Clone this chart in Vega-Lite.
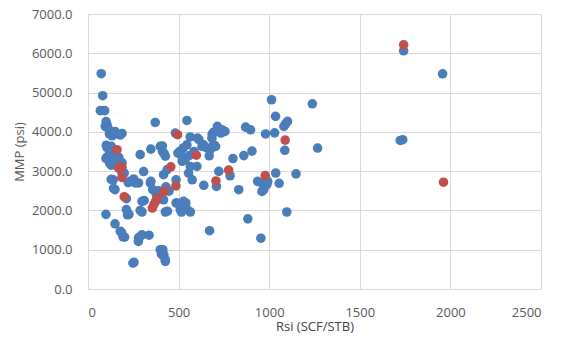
{
  "$schema": "https://vega.github.io/schema/vega-lite/v6.json",
  "autosize": "none",
  "width": 453,
  "height": 275,
  "padding": {"left": 88, "top": 14, "right": 21, "bottom": 50},
  "background": "white",
  "config": {"view": {"stroke": null}, "font": "Open Sans"},
  "datasets": {
    "pts": [
      {"rsi": 73, "mmp": 5480, "s": "A"}, {"rsi": 81, "mmp": 4920, "s": "A"}, {"rsi": 68, "mmp": 4540, "s": "A"}, {"rsi": 92, "mmp": 4540, "s": "A"},
      {"rsi": 100, "mmp": 4260, "s": "A"}, {"rsi": 105, "mmp": 4180, "s": "A"}, {"rsi": 95, "mmp": 4140, "s": "A"}, {"rsi": 110, "mmp": 4100, "s": "A"},
      {"rsi": 125, "mmp": 4000, "s": "A"}, {"rsi": 133, "mmp": 3900, "s": "A"}, {"rsi": 141, "mmp": 3930, "s": "A"}, {"rsi": 149, "mmp": 4010, "s": "A"},
      {"rsi": 118, "mmp": 3950, "s": "A"}, {"rsi": 188, "mmp": 3960, "s": "A"}, {"rsi": 178, "mmp": 3920, "s": "A"},
      {"rsi": 101, "mmp": 3660, "s": "A"}, {"rsi": 129, "mmp": 3630, "s": "A"}, {"rsi": 105, "mmp": 3600, "s": "A"}, {"rsi": 119, "mmp": 3440, "s": "A"},
      {"rsi": 140, "mmp": 3500, "s": "A"}, {"rsi": 150, "mmp": 3420, "s": "A"}, {"rsi": 99, "mmp": 3320, "s": "A"}, {"rsi": 103, "mmp": 3350, "s": "A"},
      {"rsi": 115, "mmp": 3310, "s": "A"}, {"rsi": 129, "mmp": 3150, "s": "A"}, {"rsi": 120, "mmp": 3200, "s": "A"}, {"rsi": 140, "mmp": 3250, "s": "A"},
      {"rsi": 155, "mmp": 3300, "s": "A"}, {"rsi": 165, "mmp": 3200, "s": "A"}, {"rsi": 170, "mmp": 3350, "s": "A"},
      {"rsi": 139, "mmp": 2780, "s": "A"}, {"rsi": 128, "mmp": 2790, "s": "A"}, {"rsi": 149, "mmp": 2530, "s": "A"}, {"rsi": 141, "mmp": 2560, "s": "A"},
      {"rsi": 99, "mmp": 1900, "s": "A"}, {"rsi": 149, "mmp": 1660, "s": "A"}, {"rsi": 178, "mmp": 1470, "s": "A"}, {"rsi": 185, "mmp": 1440, "s": "A"},
      {"rsi": 193, "mmp": 1330, "s": "A"}, {"rsi": 202, "mmp": 1320, "s": "A"},
      {"rsi": 188, "mmp": 2950, "s": "A"}, {"rsi": 188, "mmp": 3210, "s": "A"}, {"rsi": 175, "mmp": 3100, "s": "A"}, {"rsi": 200, "mmp": 2950, "s": "A"},
      {"rsi": 212, "mmp": 2300, "s": "A"}, {"rsi": 212, "mmp": 2020, "s": "A"}, {"rsi": 218, "mmp": 1890, "s": "A"}, {"rsi": 226, "mmp": 1900, "s": "A"},
      {"rsi": 233, "mmp": 2740, "s": "A"}, {"rsi": 252, "mmp": 2800, "s": "A"}, {"rsi": 262, "mmp": 2700, "s": "A"}, {"rsi": 279, "mmp": 2700, "s": "A"},
      {"rsi": 222, "mmp": 2710, "s": "A"}, {"rsi": 288, "mmp": 3420, "s": "A"}, {"rsi": 307, "mmp": 2990, "s": "A"}, {"rsi": 298, "mmp": 2230, "s": "A"},
      {"rsi": 310, "mmp": 2250, "s": "A"}, {"rsi": 298, "mmp": 1960, "s": "A"}, {"rsi": 288, "mmp": 2000, "s": "A"},
      {"rsi": 284, "mmp": 1320, "s": "A"}, {"rsi": 278, "mmp": 1210, "s": "A"}, {"rsi": 279, "mmp": 1300, "s": "A"}, {"rsi": 298, "mmp": 1380, "s": "A"},
      {"rsi": 337, "mmp": 1370, "s": "A"}, {"rsi": 248, "mmp": 660, "s": "A"}, {"rsi": 254, "mmp": 680, "s": "A"},
      {"rsi": 371, "mmp": 4240, "s": "A"}, {"rsi": 347, "mmp": 2740, "s": "A"}, {"rsi": 357, "mmp": 2530, "s": "A"}, {"rsi": 344, "mmp": 2700, "s": "A"},
      {"rsi": 347, "mmp": 3560, "s": "A"}, {"rsi": 399, "mmp": 3630, "s": "A"}, {"rsi": 410, "mmp": 3640, "s": "A"}, {"rsi": 411, "mmp": 3500, "s": "A"},
      {"rsi": 427, "mmp": 3380, "s": "A"}, {"rsi": 420, "mmp": 3450, "s": "A"}, {"rsi": 377, "mmp": 2400, "s": "A"}, {"rsi": 390, "mmp": 2500, "s": "A"},
      {"rsi": 427, "mmp": 1960, "s": "A"}, {"rsi": 438, "mmp": 1980, "s": "A"}, {"rsi": 417, "mmp": 2270, "s": "A"}, {"rsi": 400, "mmp": 2330, "s": "A"},
      {"rsi": 417, "mmp": 2910, "s": "A"}, {"rsi": 437, "mmp": 3040, "s": "A"}, {"rsi": 399, "mmp": 1000, "s": "A"}, {"rsi": 408, "mmp": 873, "s": "A"},
      {"rsi": 413, "mmp": 1000, "s": "A"}, {"rsi": 419, "mmp": 870, "s": "A"}, {"rsi": 405, "mmp": 900, "s": "A"}, {"rsi": 426, "mmp": 746, "s": "A"},
      {"rsi": 427, "mmp": 704, "s": "A"}, {"rsi": 447, "mmp": 2490, "s": "A"}, {"rsi": 430, "mmp": 2600, "s": "A"},
      {"rsi": 482, "mmp": 3970, "s": "A"}, {"rsi": 486, "mmp": 2780, "s": "A"}, {"rsi": 496, "mmp": 3460, "s": "A"}, {"rsi": 506, "mmp": 3500, "s": "A"},
      {"rsi": 546, "mmp": 4290, "s": "A"}, {"rsi": 526, "mmp": 3590, "s": "A"}, {"rsi": 546, "mmp": 3670, "s": "A"}, {"rsi": 536, "mmp": 3290, "s": "A"},
      {"rsi": 516, "mmp": 3400, "s": "A"}, {"rsi": 520, "mmp": 3250, "s": "A"}, {"rsi": 486, "mmp": 2190, "s": "A"}, {"rsi": 527, "mmp": 2230, "s": "A"},
      {"rsi": 537, "mmp": 2100, "s": "A"}, {"rsi": 516, "mmp": 1960, "s": "A"}, {"rsi": 565, "mmp": 1960, "s": "A"}, {"rsi": 509, "mmp": 2018, "s": "A"},
      {"rsi": 546, "mmp": 2018, "s": "A"}, {"rsi": 491, "mmp": 2188, "s": "A"}, {"rsi": 540, "mmp": 2190, "s": "A"},
      {"rsi": 564, "mmp": 3870, "s": "A"}, {"rsi": 605, "mmp": 3840, "s": "A"}, {"rsi": 612, "mmp": 3800, "s": "A"}, {"rsi": 585, "mmp": 3500, "s": "A"},
      {"rsi": 560, "mmp": 3400, "s": "A"}, {"rsi": 565, "mmp": 3120, "s": "A"}, {"rsi": 601, "mmp": 3120, "s": "A"}, {"rsi": 575, "mmp": 2780, "s": "A"},
      {"rsi": 555, "mmp": 2950, "s": "A"}, {"rsi": 629, "mmp": 3630, "s": "A"}, {"rsi": 656, "mmp": 3590, "s": "A"}, {"rsi": 638, "mmp": 3670, "s": "A"},
      {"rsi": 639, "mmp": 2640, "s": "A"}, {"rsi": 669, "mmp": 3390, "s": "A"}, {"rsi": 675, "mmp": 3545, "s": "A"}, {"rsi": 671, "mmp": 1484, "s": "A"},
      {"rsi": 685, "mmp": 3940, "s": "A"}, {"rsi": 693, "mmp": 3990, "s": "A"}, {"rsi": 684, "mmp": 3840, "s": "A"}, {"rsi": 693, "mmp": 3672, "s": "A"},
      {"rsi": 704, "mmp": 3630, "s": "A"}, {"rsi": 714, "mmp": 4140, "s": "A"}, {"rsi": 734, "mmp": 3970, "s": "A"}, {"rsi": 739, "mmp": 4054, "s": "A"},
      {"rsi": 756, "mmp": 4011, "s": "A"}, {"rsi": 722, "mmp": 2993, "s": "A"}, {"rsi": 709, "mmp": 2612, "s": "A"}, {"rsi": 784, "mmp": 2883, "s": "A"},
      {"rsi": 800, "mmp": 3320, "s": "A"}, {"rsi": 832, "mmp": 2527, "s": "A"}, {"rsi": 860, "mmp": 3396, "s": "A"}, {"rsi": 870, "mmp": 4120, "s": "A"},
      {"rsi": 897, "mmp": 4052, "s": "A"}, {"rsi": 905, "mmp": 3510, "s": "A"}, {"rsi": 882, "mmp": 1786, "s": "A"},
      {"rsi": 936, "mmp": 2740, "s": "A"}, {"rsi": 954, "mmp": 1293, "s": "A"}, {"rsi": 970, "mmp": 2527, "s": "A"}, {"rsi": 960, "mmp": 2485, "s": "A"},
      {"rsi": 980, "mmp": 3947, "s": "A"}, {"rsi": 992, "mmp": 2739, "s": "A"}, {"rsi": 987, "mmp": 2655, "s": "A"}, {"rsi": 960, "mmp": 2698, "s": "A"},
      {"rsi": 1013, "mmp": 4817, "s": "A"}, {"rsi": 1030, "mmp": 3975, "s": "A"}, {"rsi": 1035, "mmp": 4396, "s": "A"}, {"rsi": 1036, "mmp": 2951, "s": "A"},
      {"rsi": 1055, "mmp": 2690, "s": "A"}, {"rsi": 1081, "mmp": 4138, "s": "A"}, {"rsi": 1101, "mmp": 4266, "s": "A"}, {"rsi": 1090, "mmp": 4200, "s": "A"},
      {"rsi": 1086, "mmp": 3530, "s": "A"}, {"rsi": 1097, "mmp": 1960, "s": "A"}, {"rsi": 1148, "mmp": 2930, "s": "A"}, {"rsi": 1238, "mmp": 4715, "s": "A"},
      {"rsi": 1267, "mmp": 3588, "s": "A"}, {"rsi": 1742, "mmp": 6063, "s": "A"}, {"rsi": 1723, "mmp": 3782, "s": "A"}, {"rsi": 1737, "mmp": 3800, "s": "A"},
      {"rsi": 1957, "mmp": 5478, "s": "A"},
      {"rsi": 160, "mmp": 3545, "s": "B"}, {"rsi": 169, "mmp": 3080, "s": "B"}, {"rsi": 188, "mmp": 3090, "s": "B"}, {"rsi": 179, "mmp": 3110, "s": "B"},
      {"rsi": 187, "mmp": 2840, "s": "B"}, {"rsi": 200, "mmp": 2350, "s": "B"}, {"rsi": 355, "mmp": 2061, "s": "B"}, {"rsi": 364, "mmp": 2150, "s": "B"},
      {"rsi": 373, "mmp": 2230, "s": "B"}, {"rsi": 383, "mmp": 2315, "s": "B"}, {"rsi": 422, "mmp": 2485, "s": "B"}, {"rsi": 457, "mmp": 3110, "s": "B"},
      {"rsi": 494, "mmp": 3927, "s": "B"}, {"rsi": 485, "mmp": 2625, "s": "B"}, {"rsi": 598, "mmp": 3405, "s": "B"}, {"rsi": 706, "mmp": 2750, "s": "B"},
      {"rsi": 776, "mmp": 3025, "s": "B"}, {"rsi": 978, "mmp": 2885, "s": "B"}, {"rsi": 1088, "mmp": 3790, "s": "B"}, {"rsi": 1742, "mmp": 6216, "s": "B"},
      {"rsi": 1962, "mmp": 2718, "s": "B"}
    ]
  },
  "data": {"name": "pts"},
  "mark": {"type": "circle", "size": 92, "opacity": 1},
  "encoding": {
    "x": {
      "field": "rsi", "type": "quantitative",
      "scale": {"domain": [0, 2500], "nice": false},
      "axis": {
        "values": [0, 500, 1000, 1500, 2000, 2500], "format": "d",
        "title": "Rsi (SCF/STB)", "titleFont": "Open Sans", "titleFontSize": 13, "titleFontWeight": "normal", "titleColor": "#404040", "titlePadding": 1,
        "labelFont": "Open Sans", "labelFontSize": 13, "labelColor": "#595959", "labelPadding": 17,
        "grid": true, "gridColor": "#D9D9D9", "gridWidth": 1, "domain": false, "ticks": false
      }
    },
    "y": {
      "field": "mmp", "type": "quantitative",
      "scale": {"domain": [0, 7000], "nice": false},
      "axis": {
        "values": [0, 1000, 2000, 3000, 4000, 5000, 6000, 7000], "format": ".1f",
        "title": "MMP (psi)", "titleFont": "Open Sans", "titleFontSize": 13, "titleFontWeight": "normal", "titleColor": "#595959", "titlePadding": 5,
        "labelFont": "Open Sans", "labelFontSize": 13, "labelColor": "#595959", "labelPadding": 16,
        "grid": true, "gridColor": "#D9D9D9", "gridWidth": 1, "domain": false, "ticks": false
      }
    },
    "color": {
      "field": "s", "type": "nominal",
      "scale": {"domain": ["A", "B"], "range": ["#4A7EBB", "#C0504D"]},
      "legend": null
    }
  }
}
